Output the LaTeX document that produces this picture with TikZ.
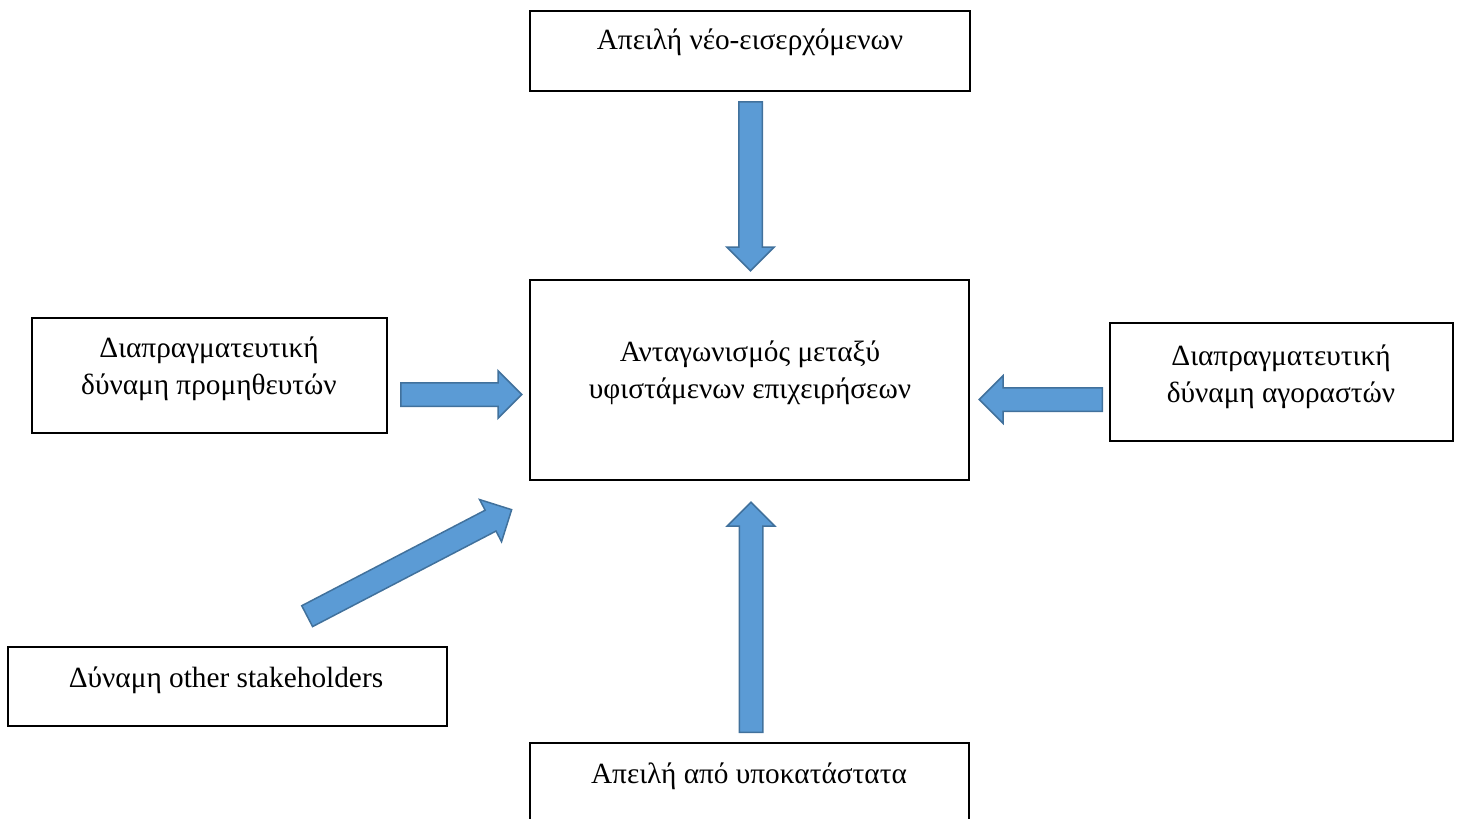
\documentclass[tikz,border=0pt]{standalone}
\usepackage{fontspec}
\setmainfont{Liberation Serif}
\usetikzlibrary{shapes.arrows,calc}

\definecolor{arrowfill}{HTML}{5B9BD5}
\definecolor{arrowline}{HTML}{41719C}

\begin{document}
\begin{tikzpicture}[x=1pt, y=-1pt,
		box_style/.style={draw=black,line width=1.3pt,inner sep=0pt},
		text_style/.style={font=\fontsize{29.3}{37}\selectfont,align=center,anchor=base,inner sep=0pt},
		force_style/.style={single arrow,draw=arrowline,fill=arrowfill,line width=1.5pt,
			inner xsep=0pt,inner ysep=11pt,minimum width=0pt,anchor=tail,
			single arrow head extend=12pt,single arrow tip angle=90}]
		
		\useasboundingbox (0,0) rectangle (1457,819);
		
		\node[box_style,minimum width=440pt,minimum height=80pt] (newent) at (750,51) {};
		\node[box_style,minimum width=439pt,minimum height=200pt] (rivalry) at (749.5,380) {};
		\node[box_style,minimum width=355pt,minimum height=115pt] (supply) at (209.5,375.5) {};
		\node[box_style,minimum width=343pt,minimum height=118pt] (buyers) at (1281.5,382) {};
		\node[box_style,minimum width=439pt,minimum height=79pt] (stake) at (227.5,686.5) {};
		\node[box_style,minimum width=439pt,minimum height=87pt] (subst) at (749.5,786.5) {};
		
		% base anchor = baseline of the last line
		\node[text_style] (newent_t) at (750,49) {Απειλή νέο-εισερχόμενων};
		\node[text_style] (rivalry_t) at (750,398) {Ανταγωνισμός μεταξύ\\υφιστάμενων επιχειρήσεων};
		\node[text_style] (supply_t) at (209,394) {Διαπραγματευτική\\δύναμη προμηθευτών};
		\node[text_style] (buyers_t) at (1281,402) {Διαπραγματευτική\\δύναμη αγοραστών};
		\node[text_style] (stake_t) at (226,687) {Δύναμη other stakeholders};
		\node[text_style] (subst_t) at (749,783) {Απειλή από υποκατάστατα};
		
		\coordinate (newent_a) at (750.5,101);
		\coordinate (newent_b) at (750.5,270);
		\coordinate (supply_a) at (400,394.5);
		\coordinate (supply_b) at (521,394.5);
		\coordinate (buyers_a) at (1103,399.5);
		\coordinate (buyers_b) at (980,399.5);
		\coordinate (stake_a) at (306.5,616.5);
		\coordinate (stake_b) at (511,510);
		\coordinate (subst_a) at (751,733);
		\coordinate (subst_b) at (751,503);
		
		\foreach \a in {newent,supply,buyers,stake,subst}
			\path let \p1=(\a_a), \p2=(\a_b),
				\n1={atan2(\y2-\y1,\x2-\x1)}, \n2={veclen(\x2-\x1,\y2-\y1)} in
				node[force_style,rotate=\n1,minimum height=\n2] at (\a_a) {};
		
\end{tikzpicture}
\end{document}
